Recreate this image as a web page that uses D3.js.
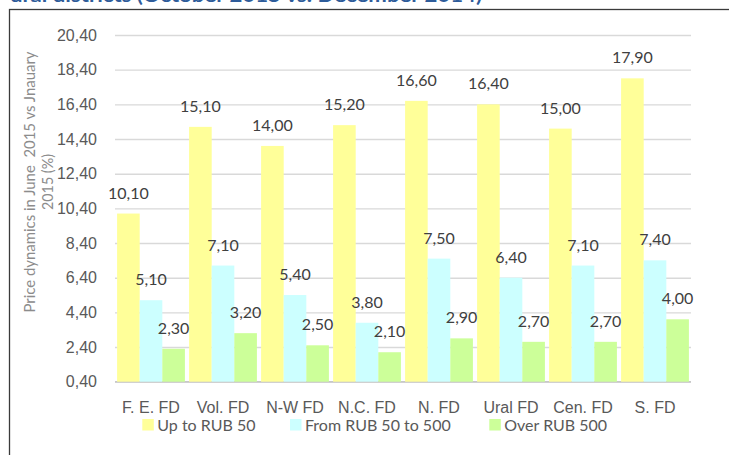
<!DOCTYPE html>
<html>
<head>
<meta charset="utf-8">
<script src="https://cdn.jsdelivr.net/npm/d3@7"></script>
<style>
  body { margin: 0; background: #fff; }
  svg { display: block; font-family: Lato, "Open Sans", sans-serif; }
</style>
</head>
<body>
<div id="chart"></div>
<script>
// data
const districts = ["F. E. FD", "Vol. FD", "N-W FD", "N.C. FD", "N. FD", "Ural FD", "Cen. FD", "S. FD"];
const seriesNames = ["Up to RUB 50", "From RUB 50 to 500", "Over RUB 500"];
const upTo50 = [10.10, 15.10, 14.00, 15.20, 16.60, 16.40, 15.00, 17.90];
const from50to500 = [5.10, 7.10, 5.40, 3.80, 7.50, 6.40, 7.10, 7.40];
const over500 = [2.30, 3.20, 2.50, 2.10, 2.90, 2.70, 2.70, 4.00];
const yTicks = [0.40, 2.40, 4.40, 6.40, 8.40, 10.40, 12.40, 14.40, 16.40, 18.40, 20.40];
const titleText = "ural districts (October 2015 vs. December 2014)";
const yTitle = ["Price dynamics in June  2015 vs Jnauary", "2015 (%)"];

const colors = ["#FFFF99", "#CCFFFF", "#CCFF99"];

function fmt(v) {
  return d3.format(".2f")(v).replace(".", ",");
}

function add_svg(wrapper) {
  return d3.select(wrapper).append("svg")
    .attr("width", 729)
    .attr("height", 455);
}

function draw_chart(wrapper) {
  let svg = add_svg(wrapper);

  let left = 115, right = 691, top = 35, bottom = 381.7;

  // title, cut off at the top edge like the source
  svg.append("text")
    .attr("x", 10)
    .attr("y", 2)
    .attr("textLength", 472)
    .attr("lengthAdjust", "spacingAndGlyphs")
    .style("font-weight", "bold")
    .style("font-size", "19px")
    .attr("fill", "#2e5c9a")
    .text(titleText);

  // chart frame (runs off the right and bottom edges)
  svg.append("rect")
    .attr("x", 9.5)
    .attr("y", 9.5)
    .attr("width", 760)
    .attr("height", 460)
    .attr("fill", "none")
    .attr("stroke", "#3a3a3a")
    .attr("stroke-width", 1.3);

  let x0 = d3.scaleBand()
    .domain(districts)
    .range([left, right])
    .paddingInner(0.058)
    .paddingOuter(0.029);

  let x1 = d3.scaleBand()
    .domain(seriesNames)
    .range([0, x0.bandwidth()]);

  let y = d3.scaleLinear()
    .domain([0.4, 20.4])
    .range([bottom, top]);

  // gridlines + tick labels
  let yAxis = d3.axisLeft(y)
    .tickValues(yTicks)
    .tickSize(-(right - left))
    .tickPadding(18)
    .tickFormat(fmt);

  let gy = svg.append("g")
    .attr("transform", "translate(" + left + ",0)")
    .call(yAxis);
  gy.select(".domain").remove();
  gy.selectAll(".tick line")
    .attr("stroke", "#d9d9d9")
    .attr("stroke-width", 1.4);
  gy.selectAll(".tick text")
    .attr("fill", "#595959")
    .style("font-size", "16px");

  svg.append("line")
    .attr("x1", left)
    .attr("x2", right)
    .attr("y1", y(0.4))
    .attr("y2", y(0.4))
    .attr("stroke", "#c8c8c8")
    .attr("stroke-width", 1.5);

  // category labels
  let gx = svg.append("g")
    .attr("transform", "translate(0," + bottom + ")")
    .call(d3.axisBottom(x0).tickSize(0).tickPadding(20));
  gx.select(".domain").remove();
  gx.selectAll(".tick text")
    .attr("fill", "#595959")
    .style("font-size", "16px");

  // bars
  let series = [upTo50, from50to500, over500];
  let rows = [];
  districts.forEach(function (d, i) {
    series.forEach(function (s, j) {
      rows.push({ district: d, name: seriesNames[j], value: s[i], color: colors[j] });
    });
  });

  svg.selectAll("rect.bar")
    .data(rows)
    .enter()
    .append("rect")
    .attr("class", "bar")
    .attr("x", d => x0(d.district) + x1(d.name))
    .attr("y", d => y(d.value))
    .attr("width", x1.bandwidth())
    .attr("height", d => y(0.4) - y(d.value))
    .attr("fill", d => d.color);

  svg.selectAll("text.lbl")
    .data(rows)
    .enter()
    .append("text")
    .attr("class", "lbl")
    .attr("x", d => x0(d.district) + x1(d.name) + x1.bandwidth() / 2)
    .attr("y", d => y(d.value) - 15)
    .attr("text-anchor", "middle")
    .attr("fill", "#404040")
    .style("font-size", "16px")
    .text(d => fmt(d.value));

  // y title, two lines
  let yt = svg.append("text")
    .attr("transform", "translate(0,182) rotate(-90)")
    .attr("text-anchor", "middle")
    .attr("fill", "#8c8c8c")
    .style("font-size", "16px")
    .style("white-space", "pre");
  yt.append("tspan").attr("x", 0).attr("y", 35)
    .attr("textLength", 261)
    .attr("lengthAdjust", "spacingAndGlyphs")
    .text(yTitle[0]);
  yt.append("tspan").attr("x", 0).attr("y", 53)
    .attr("textLength", 56)
    .attr("lengthAdjust", "spacingAndGlyphs")
    .text(yTitle[1]);

  // legend
  let legendX = [142.3, 290, 489.3];
  let lg = svg.selectAll("g.legend")
    .data(seriesNames)
    .enter()
    .append("g")
    .attr("class", "legend")
    .attr("transform", (d, i) => "translate(" + legendX[i] + ",419)");
  lg.append("rect")
    .attr("width", 11.5)
    .attr("height", 11.5)
    .attr("fill", (d, i) => colors[i]);
  lg.append("text")
    .attr("x", 15)
    .attr("y", 12)
    .attr("fill", "#595959")
    .style("font-size", "16px")
    .text(d => d);
}

draw_chart("#chart");
</script>
</body>
</html>
